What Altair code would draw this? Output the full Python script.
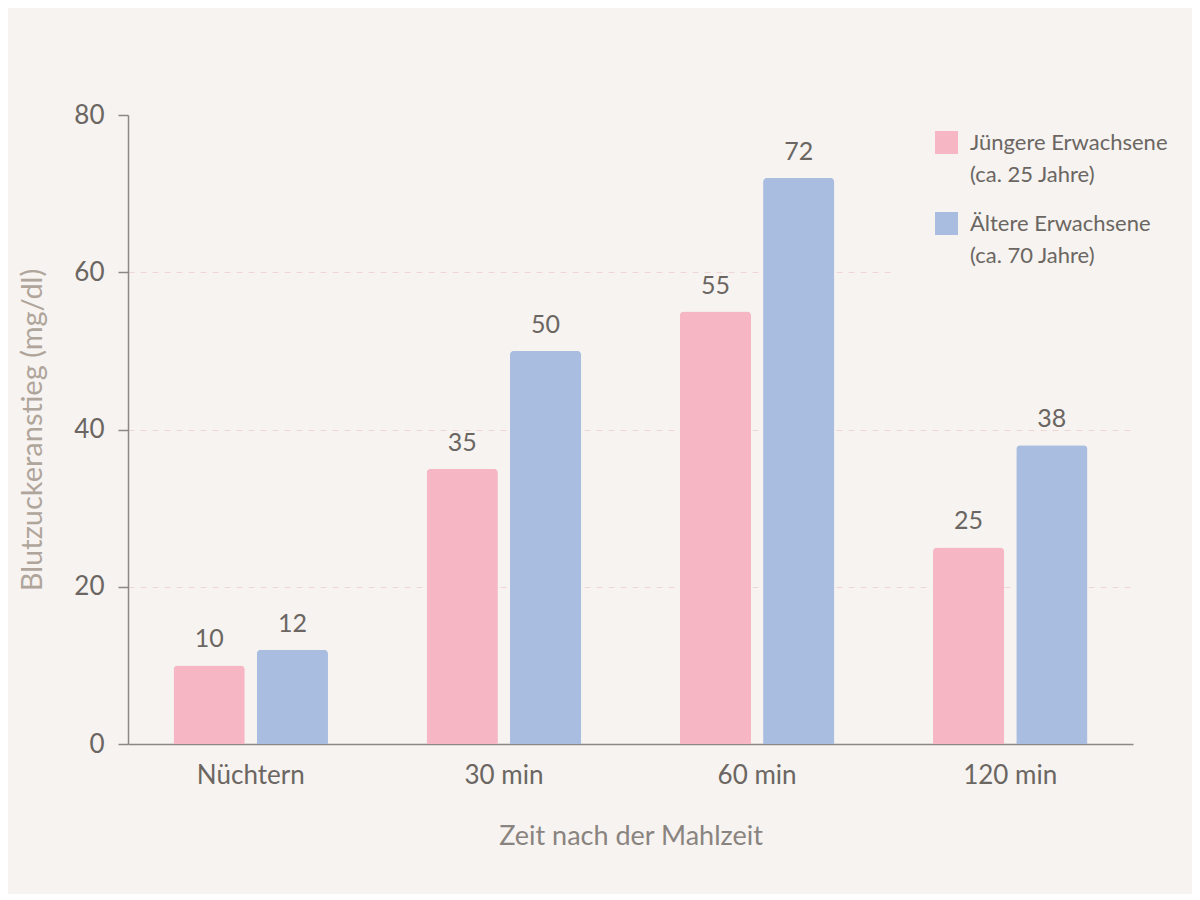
import altair as alt
import pandas as pd

zeitpunkte = ["Nüchtern", "30 min", "60 min", "120 min"]
gruppen = ["Jüngere Erwachsene", "Ältere Erwachsene"]
alter = ["(ca. 25 Jahre)", "(ca. 70 Jahre)"]
juengere = [10, 35, 55, 25]
aeltere = [12, 50, 72, 38]

rows = []
for i, z in enumerate(zeitpunkte):
    rows.append({"Zeit": z, "Gruppe": gruppen[0], "Alter": alter[0], "Wert": juengere[i]})
    rows.append({"Zeit": z, "Gruppe": gruppen[1], "Alter": alter[1], "Wert": aeltere[i]})
df = pd.DataFrame(rows)

BG = "#f6f3f0"
FONT = "Lato"
TXT = "#6b6662"

x = alt.X("Zeit:N", sort=zeitpunkte,
          scale=alt.Scale(paddingInner=0.39, paddingOuter=0.18),
          axis=alt.Axis(title="Zeit nach der Mahlzeit", labelAngle=0, ticks=False,
                        labelPadding=18, labelFontSize=26, labelColor=TXT, labelFont=FONT,
                        titleFontSize=27, titleColor="#8a8480", titleFont=FONT,
                        titleFontWeight="normal", titlePadding=35,
                        domainColor="#8c8784", domainWidth=1.5, grid=False))
y = alt.Y("Wert:Q", scale=alt.Scale(domain=[0, 80]),
          axis=alt.Axis(title="Blutzuckeranstieg (mg/dl)", values=[0, 20, 40, 60, 80],
                        tickSize=10, tickColor="#8c8784", tickWidth=1.5,
                        labelPadding=14, labelFontSize=26, labelColor=TXT, labelFont=FONT,
                        titleFontSize=29, titleColor="#b0a59b", titleFont=FONT,
                        titleFontWeight="normal", titlePadding=26,
                        domainColor="#8c8784", domainWidth=1.5,
                        grid=True, gridDash=[6, 6], gridColor="#efd6d6", gridWidth=1,
                        gridOpacity=alt.ExprRef("datum.value == 0 || datum.value == 80 ? 0 : 1")))

color = alt.Color("Gruppe:N", sort=gruppen,
                  scale=alt.Scale(domain=gruppen, range=["#f7b6c4", "#a8bde0"]),
                  legend=alt.Legend(title=None, orient="none", legendX=767, legendY=-24,
                                    symbolType="square", symbolSize=529, symbolStrokeWidth=0,
                                    symbolOpacity=1,
                                    labelFontSize=22, labelColor=TXT, labelFont=FONT,
                                    labelLimit=300, labelOffset=12, labelBaseline="middle",
                                    rowPadding=58, padding=40, fillColor=BG,
                                    symbolOffset=0))

dash = alt.StrokeDash("Alter:N", sort=alter,
                      legend=alt.Legend(title=None, orient="none", legendX=807, legendY=48,
                                        symbolType="square", symbolSize=529,
                                        symbolStrokeWidth=0, symbolOpacity=0,
                                        symbolFillColor="transparent",
                                        labelFontSize=22, labelColor=TXT, labelFont=FONT,
                                        labelLimit=300, labelOffset=12, labelBaseline="middle",
                                        rowPadding=58, padding=0, symbolOffset=0))

base = alt.Chart(df).encode(
    x=x,
    xOffset=alt.XOffset("Gruppe:N", sort=gruppen, scale=alt.Scale(paddingInner=0.145)),
)

bars = base.mark_bar(cornerRadiusTopLeft=4, cornerRadiusTopRight=4, strokeWidth=0).encode(
    y=y, color=color, strokeDash=dash)
labels = base.mark_text(baseline="bottom", dy=-13, fontSize=25, color=TXT, font=FONT).encode(
    y=alt.Y("Wert:Q"), text=alt.Text("Wert:Q"))

chart = (bars + labels).properties(
    width=1005, height=629,
    autosize=alt.AutoSizeParams(type="none"),
    padding={"left": 120, "top": 107, "right": 59, "bottom": 150},
    background=BG,
).configure_view(stroke=None)

chart.save("out.html", embed_options={"renderer": "svg", "actions": False})
